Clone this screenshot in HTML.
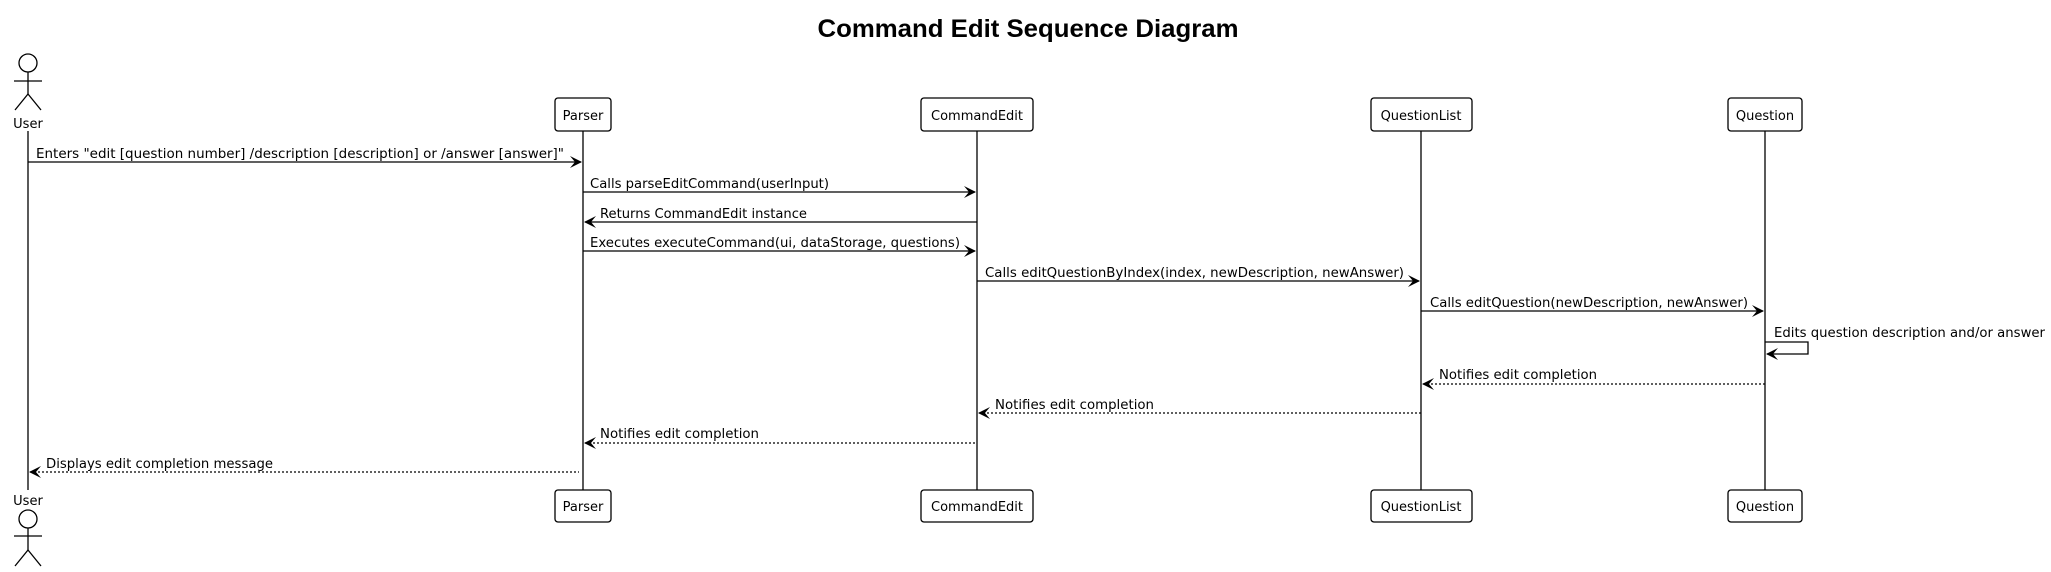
<!DOCTYPE html>
<html><head><meta charset="utf-8"><style>
html,body{margin:0;padding:0;background:#fff;}
svg{display:block;}
text{font-family:"DejaVu Sans","Liberation Sans",sans-serif;font-size:13px;fill:#000;}
.t{font-family:"Liberation Sans",sans-serif;font-weight:bold;font-size:25px;}
</style></head><body>
<svg width="2051" height="572" viewBox="0 0 2051 572" xmlns="http://www.w3.org/2000/svg">
<text class="t" x="1028" y="37" text-anchor="middle" textLength="421" lengthAdjust="spacingAndGlyphs">Command Edit Sequence Diagram</text>
<g stroke="#000" stroke-width="1.3" fill="none">
<line x1="28" y1="131" x2="28" y2="490"/>
<line x1="583" y1="131" x2="583" y2="490"/>
<line x1="977" y1="131" x2="977" y2="490"/>
<line x1="1421" y1="131" x2="1421" y2="490"/>
<line x1="1765" y1="131" x2="1765" y2="490"/>
<circle cx="28" cy="63" r="9" fill="#fff"/>
<line x1="28" y1="72" x2="28" y2="94"/><line x1="14" y1="81" x2="42" y2="81"/>
<line x1="28" y1="94" x2="15" y2="110"/><line x1="28" y1="94" x2="41" y2="110"/>
<circle cx="28" cy="519" r="9" fill="#fff"/>
<line x1="28" y1="528" x2="28" y2="550"/><line x1="14" y1="536" x2="42" y2="536"/>
<line x1="28" y1="550" x2="15" y2="566"/><line x1="28" y1="550" x2="41" y2="566"/>
<rect x="555" y="98" width="56" height="33" rx="3" fill="#fff"/>
<rect x="921" y="98" width="112" height="33" rx="3" fill="#fff"/>
<rect x="1371" y="98" width="101" height="33" rx="3" fill="#fff"/>
<rect x="1728" y="98" width="74" height="33" rx="3" fill="#fff"/>
<rect x="555" y="490" width="56" height="32" rx="3" fill="#fff"/>
<rect x="921" y="490" width="112" height="32" rx="3" fill="#fff"/>
<rect x="1371" y="490" width="101" height="32" rx="3" fill="#fff"/>
<rect x="1728" y="490" width="74" height="32" rx="3" fill="#fff"/>
<line x1="28" y1="162" x2="581" y2="162"/>
<line x1="583" y1="192" x2="975" y2="192"/>
<line x1="585" y1="222" x2="977" y2="222"/>
<line x1="583" y1="251" x2="975" y2="251"/>
<line x1="977" y1="281" x2="1419" y2="281"/>
<line x1="1421" y1="311" x2="1763" y2="311"/>
<polyline points="1765,342 1808,342 1808,354 1767,354"/>
<g stroke-dasharray="2,2">
<line x1="1423" y1="384" x2="1765" y2="384"/>
<line x1="979" y1="413" x2="1421" y2="413"/>
<line x1="585" y1="443" x2="977" y2="443"/>
<line x1="30" y1="472" x2="579" y2="472"/>
</g>
</g>
<g fill="#000">
<polygon points="582,162 570,156 575,162 570,168"/>
<polygon points="976,192 964,186 969,192 964,198"/>
<polygon points="584,222 596,216 591,222 596,228"/>
<polygon points="976,251 964,245 969,251 964,257"/>
<polygon points="1420,281 1408,275 1413,281 1408,287"/>
<polygon points="1764,311 1752,305 1757,311 1752,317"/>
<polygon points="1766,354 1778,348 1773,354 1778,360"/>
<polygon points="1422,384 1434,378 1429,384 1434,390"/>
<polygon points="978,413 990,407 985,413 990,419"/>
<polygon points="584,443 596,437 591,443 596,449"/>
<polygon points="29,472 41,466 36,472 41,478"/>
</g>
<text x="28" y="128" text-anchor="middle" font-size="14">User</text>
<text x="28" y="505" text-anchor="middle" font-size="14">User</text>
<text x="583" y="120" text-anchor="middle" font-size="14">Parser</text>
<text x="977" y="120" text-anchor="middle" font-size="14">CommandEdit</text>
<text x="1421" y="120" text-anchor="middle" font-size="14">QuestionList</text>
<text x="1765" y="120" text-anchor="middle" font-size="14">Question</text>
<text x="583" y="511" text-anchor="middle" font-size="14">Parser</text>
<text x="977" y="511" text-anchor="middle" font-size="14">CommandEdit</text>
<text x="1421" y="511" text-anchor="middle" font-size="14">QuestionList</text>
<text x="1765" y="511" text-anchor="middle" font-size="14">Question</text>
<text x="36" y="158" textLength="528" lengthAdjust="spacingAndGlyphs">Enters "edit [question number] /description [description] or /answer [answer]"</text>
<text x="590" y="188" textLength="239" lengthAdjust="spacingAndGlyphs">Calls parseEditCommand(userInput)</text>
<text x="600" y="218" textLength="207" lengthAdjust="spacingAndGlyphs">Returns CommandEdit instance</text>
<text x="590" y="247" textLength="370" lengthAdjust="spacingAndGlyphs">Executes executeCommand(ui, dataStorage, questions)</text>
<text x="985" y="277" textLength="419" lengthAdjust="spacingAndGlyphs">Calls editQuestionByIndex(index, newDescription, newAnswer)</text>
<text x="1430" y="307" textLength="318" lengthAdjust="spacingAndGlyphs">Calls editQuestion(newDescription, newAnswer)</text>
<text x="1774" y="337" textLength="271" lengthAdjust="spacingAndGlyphs">Edits question description and/or answer</text>
<text x="1439" y="379" textLength="158" lengthAdjust="spacingAndGlyphs">Notifies edit completion</text>
<text x="995" y="409" textLength="159" lengthAdjust="spacingAndGlyphs">Notifies edit completion</text>
<text x="600" y="438" textLength="159" lengthAdjust="spacingAndGlyphs">Notifies edit completion</text>
<text x="46" y="468" textLength="227" lengthAdjust="spacingAndGlyphs">Displays edit completion message</text>
</svg>
</body></html>
